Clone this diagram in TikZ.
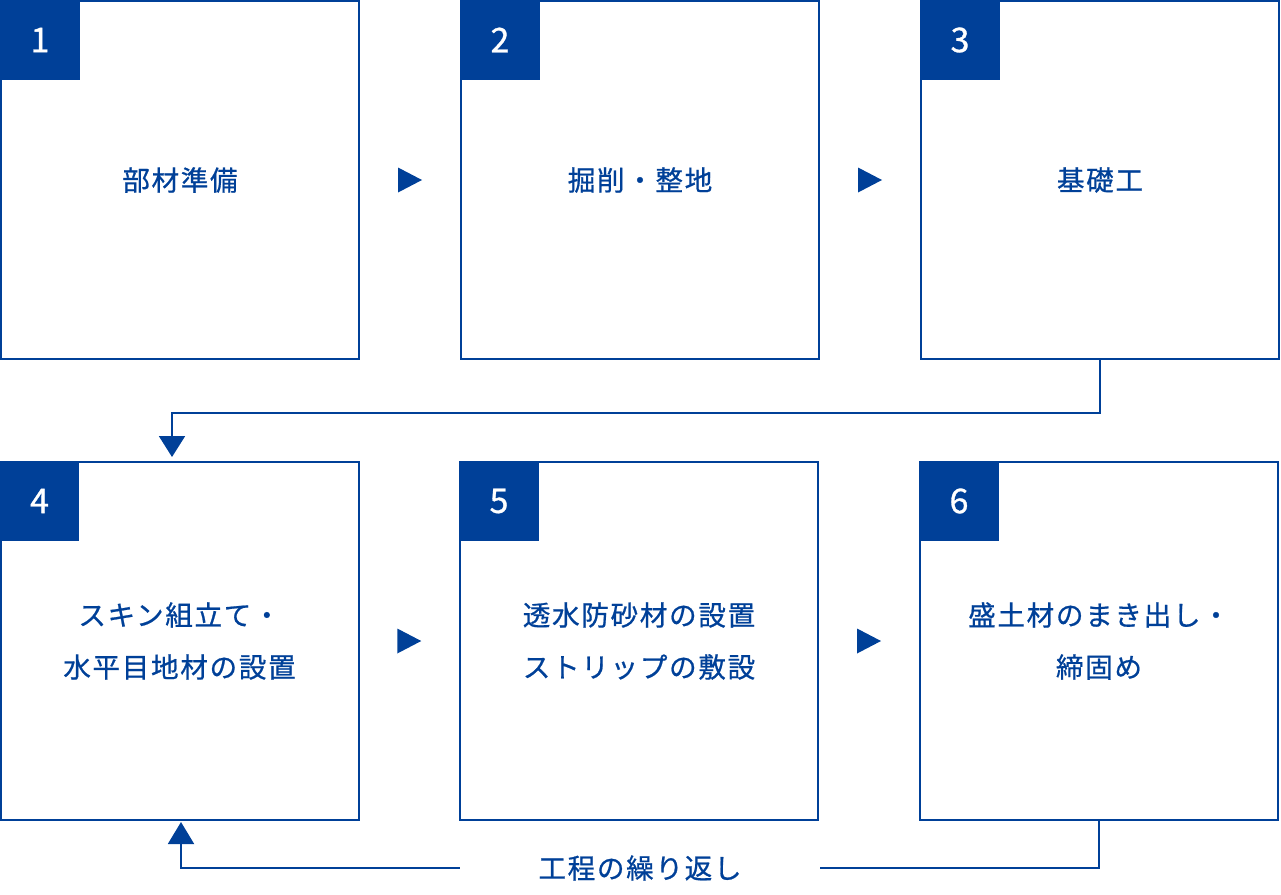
\documentclass[tikz,border=0pt]{standalone}
\usepackage{fontspec}
\setmainfont{Noto Sans CJK JP}[LetterSpace=6,FakeBold=0.7]
\newfontfamily\numfont{Noto Sans CJK JP}[FakeBold=0.9]
\usetikzlibrary{calc,arrows.meta}
\definecolor{navy}{RGB}{0,64,152}
\tikzset{
  stepbox/.style={draw=navy, line width=2pt, minimum width=358pt, minimum height=358pt, inner sep=0pt, outer sep=0pt, text=navy, align=center, font=\fontsize{27.6}{52}\selectfont},
  tab/.style={fill=navy, minimum size=79pt, inner sep=0pt, outer sep=0pt, text=white, font=\numfont\fontsize{34}{34}\selectfont},
  link/.style={draw=navy, line width=2pt},
  tip/.style={fill=navy},
}
\begin{document}
\begin{tikzpicture}[x=1pt,y=-1pt]
\useasboundingbox (0,0) rectangle (1281,894);
\node[stepbox] (b1) at (180,180) {部材準備};
\node[stepbox] (b2) at (640,180) {掘削・整地};
\node[stepbox] (b3) at (1100,180) {基礎工};
\node[stepbox] (b4) at (179.5,641) {スキン組立て・\\水平目地材の設置};
\node[stepbox] (b5) at (639,641) {透水防砂材の設置\\ストリップの敷設};
\node[stepbox] (b6) at (1099,641) {盛土材のまき出し・\\締固め};
\foreach \b/\n in {b1/1,b2/2,b3/3,b4/4,b5/5,b6/6}{
  \node[tab] (t\n) at ($(\b.north west)+(39,39)$) {\n};
}
% straight arrows between boxes
\foreach \a/\b in {b1/b2,b2/b3,b4/b5,b5/b6}{
  \coordinate (m\a) at ($(\a.east)!0.5!(\b.west)$);
  \fill[tip] ($(m\a)+(-12,-12.5)$) -- ($(m\a)+(12,0)$) -- ($(m\a)+(-12,12.5)$) -- cycle;
}
% 3 -> 4
\coordinate (in4) at ($(b4.north)+(-7.5,-5)$);
\draw[link,-{Triangle[width=26pt,length=21pt]}] (b3.south) -- ++(0,54) -| (in4);
% repeat loop
\node[text=navy, minimum width=360pt, inner sep=0pt, font=\fontsize{27.6}{27.6}\selectfont] (rep) at (640,868) {工程の繰り返し};
\coordinate (in4b) at ($(b4.south)+(1.5,2)$);
\draw[link] (b6.south) |- (rep.east);
\draw[link,-{Triangle[width=26pt,length=22pt]}] (rep.west) -| (in4b);
\end{tikzpicture}
\end{document}
